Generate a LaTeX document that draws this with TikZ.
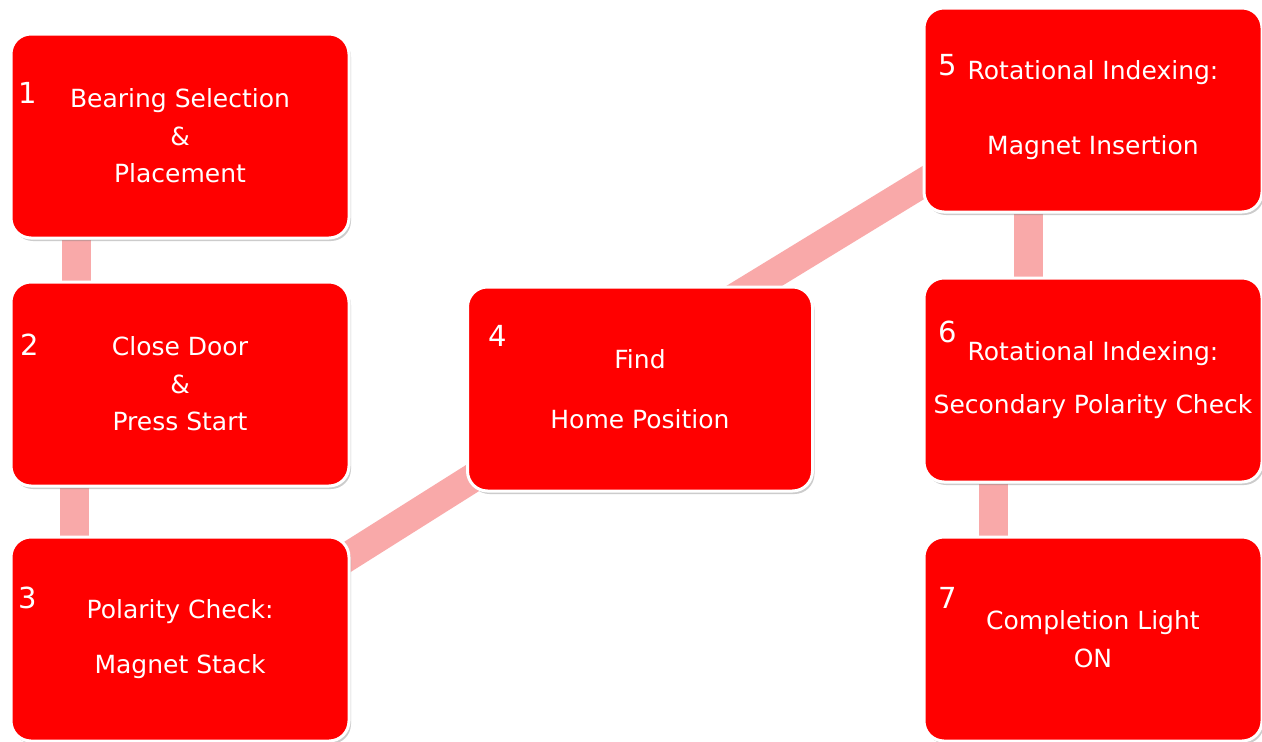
\documentclass[tikz,border=0pt]{standalone}
\usepackage{fontspec}
\setmainfont{DejaVu Sans}
\usetikzlibrary{calc, positioning, backgrounds, shadows}
\definecolor{boxRed}{HTML}{FF0000}
\definecolor{linkPink}{HTML}{F9A9A9}
\tikzset{
  stepBox/.style={fill=boxRed, draw=white, line width=3pt, rounded corners=20pt,
    minimum width=338pt, minimum height=204pt, inner sep=0pt, text=white, align=center,
    font=\fontsize{25}{37.5}\selectfont,
    drop shadow={shadow xshift=2pt, shadow yshift=-3pt, opacity=0.4}},
  stepNum/.style={text=white, font=\fontsize{29}{29}\selectfont, inner sep=0pt},
  linkBar/.style={draw=linkPink, line width=29pt}
}
\begin{document}
\begin{tikzpicture}[x=1pt, y=-1pt]
  \useasboundingbox (0,0) rectangle (1262,742);
  % steps
  \node[stepBox] (b1) at (180,136) {Bearing Selection\\\&\\Placement};
  \node[stepBox] (b2) at (180,384) {Close Door\\\&\\Press Start};
  \node[stepBox] (b3) at (180,639) {Polarity Check:\\[17pt]Magnet Stack};
  \node[stepBox, minimum width=345pt] (b4) at (640,389) {Find\\[23pt]Home Position};
  \node[stepBox] (b5) at (1093,110) {Rotational Indexing:\\[38pt]Magnet Insertion};
  \node[stepBox] (b6) at (1093,380) {Rotational Indexing:\\[16pt]Secondary Polarity Check};
  \node[stepBox] (b7) at (1093,639) {Completion Light\\ON};
  % numbers
  \node[stepNum] (n1) at ($(b1.north west)+(18,60)$) {1};
  \node[stepNum] (n2) at ($(b2.north west)+(20,64)$) {2};
  \node[stepNum] (n3) at ($(b3.north west)+(18,62)$) {3};
  \node[stepNum] (n4) at ($(b4.north west)+(32,50)$) {4};
  \node[stepNum] (n5) at ($(b5.north west)+(25,59)$) {5};
  \node[stepNum] (n6) at ($(b6.north west)+(25,55)$) {6};
  \node[stepNum] (n7) at ($(b7.north west)+(25,62)$) {7};
  % links
  \begin{scope}[on background layer]
    \fill[white] (0,0) rectangle (1262,742);
    \draw[linkBar] ($(b1.south west)!0.197!(b1.south east)$) -- ($(b2.north west)!0.197!(b2.north east)$);
    \draw[linkBar] ($(b2.south west)!0.19!(b2.south east)$) -- ($(b3.north west)!0.19!(b3.north east)$);
    \draw[linkBar, shorten <=-30pt, shorten >=-30pt] ($(b3.north east)!0.094!(b3.south east)$) -- ($(b4.north west)!0.95!(b4.south west)$);
    \draw[linkBar, shorten <=-30pt, shorten >=-30pt] ($(b4.north west)!0.83!(b4.north east)$) -- ($(b5.north west)!0.853!(b5.south west)$);
    \draw[linkBar] ($(b5.south west)!0.31!(b5.south east)$) -- ($(b6.north west)!0.31!(b6.north east)$);
    \draw[linkBar] ($(b6.south west)!0.208!(b6.south east)$) -- ($(b7.north west)!0.208!(b7.north east)$);
  \end{scope}
\end{tikzpicture}
\end{document}
